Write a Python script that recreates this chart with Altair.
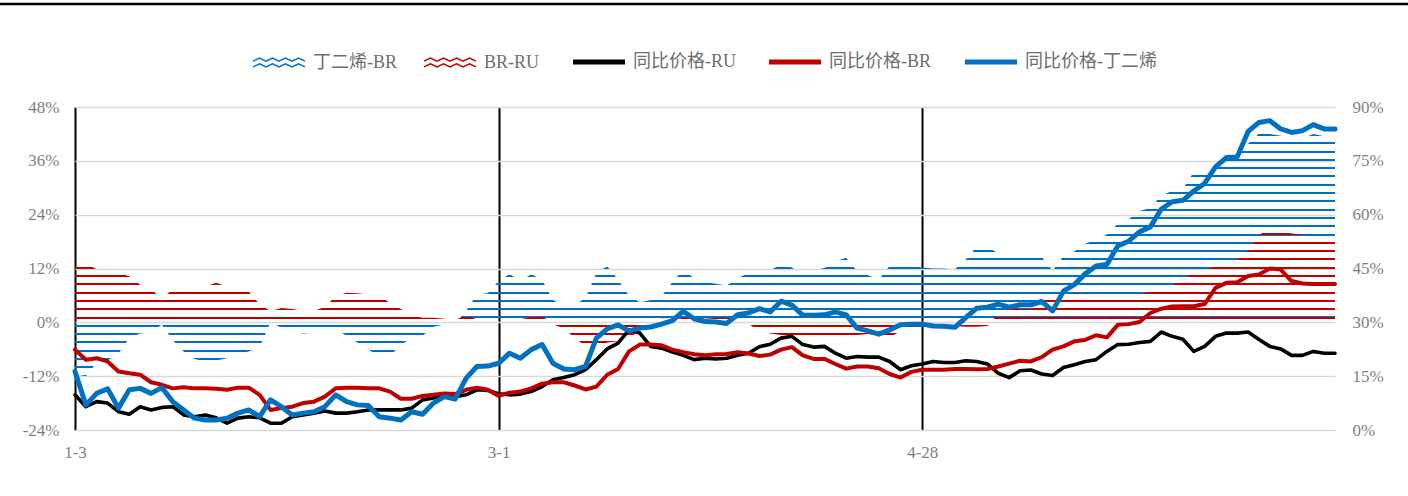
import math
import altair as alt
import pandas as pd

# ---------------- data ----------------
tick_pos = [0, 39, 78]
tick_labels = ["1-3", "3-1", "4-28"]

# 同比价格-RU (right axis, %)
ru = [9.8, 6.5, 7.9, 7.5, 5.1, 4.4, 6.5, 5.6, 6.3, 6.5,
      4.2, 3.7, 4.2, 3.4, 1.9, 3.3, 3.7, 3.4, 1.9, 1.9,
      3.7, 4.2, 4.7, 5.3, 4.7, 4.7, 5.1, 5.6, 5.6, 5.6,
      5.6, 6.1, 8.4, 8.9, 9.3, 9.3, 9.8, 11.2, 11.0, 10.1,
      9.8, 10.0, 10.7, 12.1, 14.0, 14.6, 15.4, 16.8, 19.6, 22.6,
      24.2, 27.9, 27.0, 23.3, 22.8, 21.7, 20.8, 19.6, 20.0, 19.8,
      20.0, 20.8, 21.4, 23.2, 23.9, 25.6, 26.1, 23.8, 23.1, 23.3,
      21.4, 20.0, 20.5, 20.3, 20.3, 19.1, 16.8, 17.9, 18.4, 19.1,
      18.8, 18.8, 19.3, 19.1, 18.4, 15.8, 14.6, 16.5, 16.7, 15.6,
      15.2, 17.4, 18.2, 19.1, 19.6, 21.9, 23.8, 23.9, 24.4, 24.7,
      27.3, 26.1, 25.3, 21.9, 23.3, 26.1, 27.0, 27.0, 27.3, 25.2,
      23.3, 22.6, 20.8, 20.8, 21.9, 21.4, 21.4]

# 同比价格-BR (right axis, %)
br = [22.4, 19.6, 20.0, 19.1, 16.3, 15.8, 15.4, 13.3, 12.6, 11.6,
      11.9, 11.6, 11.6, 11.5, 11.2, 11.8, 11.8, 9.8, 5.6, 6.1,
      6.5, 7.5, 7.9, 9.3, 11.6, 11.8, 11.8, 11.6, 11.6, 10.7,
      8.7, 8.7, 9.5, 9.8, 10.2, 10.0, 11.2, 11.8, 11.2, 9.5,
      10.4, 10.7, 11.6, 12.9, 13.3, 13.3, 12.4, 11.3, 12.1, 15.4,
      17.0, 21.9, 23.8, 23.8, 23.6, 22.4, 21.7, 21.1, 20.8, 21.1,
      21.2, 21.7, 21.3, 20.6, 21.0, 22.4, 23.1, 20.8, 19.8, 19.8,
      18.4, 17.1, 17.7, 17.7, 17.2, 15.6, 14.6, 16.2, 16.8, 16.8,
      16.8, 17.0, 17.0, 16.9, 17.0, 17.7, 18.5, 19.3, 19.1, 20.3,
      22.4, 23.3, 24.7, 25.1, 26.4, 25.8, 29.3, 29.5, 30.1, 32.6,
      33.8, 34.4, 34.5, 34.5, 35.1, 39.6, 41.0, 41.2, 42.9, 43.3,
      45.0, 44.7, 41.5, 40.8, 40.7, 40.7, 40.7]

# 同比价格-丁二烯 (right axis, %)
bd = [16.3, 7.0, 10.2, 11.5, 6.1, 11.2, 11.6, 10.2, 11.8, 7.9,
      5.6, 3.3, 2.8, 2.8, 3.3, 4.7, 5.6, 3.7, 8.4, 6.5,
      4.2, 4.7, 5.1, 6.5, 9.8, 7.9, 7.0, 6.8, 3.7, 3.3,
      2.8, 5.1, 4.4, 7.5, 9.3, 8.6, 14.4, 17.7, 17.8, 18.6,
      21.4, 20.0, 22.4, 23.8, 18.6, 17.0, 16.8, 17.7, 25.6, 28.2,
      29.3, 27.6, 28.4, 28.7, 29.5, 30.5, 33.1, 31.0, 30.2, 30.1,
      29.7, 32.1, 32.6, 33.8, 32.9, 35.9, 34.8, 32.0, 32.0, 32.1,
      32.9, 32.1, 28.4, 27.6, 26.7, 27.9, 29.3, 29.5, 29.5, 29.0,
      28.9, 28.6, 31.3, 33.9, 34.2, 35.1, 34.2, 34.9, 34.9, 35.8,
      33.2, 38.7, 40.5, 43.5, 45.7, 46.1, 51.3, 52.6, 55.2, 56.6,
      61.5, 63.6, 64.0, 66.6, 68.7, 73.3, 75.9, 76.1, 83.2, 85.7,
      86.2, 83.9, 82.9, 83.4, 85.1, 83.9, 83.9]

# 丁二烯-BR (left axis, %)
bd_br = [-11.5, -12.0, -9.0, -8.5, -7.0, -3.5, -2.5, -2.2, -0.5, -4.0,
         -6.5, -8.2, -8.7, -8.5, -8.0, -7.0, -6.5, -5.5,
         0.0, -1.2, -2.0, -2.5, -2.3, -2.0, -1.5, -3.0, -4.5, -6.0,
         -7.8, -7.5, -5.0, -3.5, -3.0, -1.0, -0.5, -0.3, 2.5, 6.2, 6.5,
         9.2, 10.8, 9.2, 10.7, 9.5, 5.0, 3.8, 3.8, 5.5, 11.0,
         12.5, 9.5, 6.0, 4.5, 5.0, 5.8, 9.0, 11.8,
         9.8, 9.0, 8.6, 8.2, 9.8, 11.0, 11.8, 11.6, 12.9, 12.2,
         10.5, 11.6, 12.1, 13.6, 14.4, 11.4, 10.5, 9.5, 12.6, 13.6,
         12.6, 12.2, 12.0, 12.0, 11.8, 14.0, 16.8, 16.8, 15.4, 15.0,
         15.2, 15.1, 14.6, 11.5, 14.8, 15.8, 17.5, 18.4, 19.6,
         22.0, 23.0, 24.8, 25.5, 28.3, 29.3, 29.8, 33.5, 33.8, 34.5,
         36.2, 36.8, 39.8, 42.1, 42.0, 41.6, 41.2, 41.0, 42.0, 41.5, 41.5]

# BR-RU (left axis, %)
br_ru = [12.5, 13.3, 11.8, 11.4, 11.0, 10.3, 8.4, 7.3, 5.4, 7.3,
         7.3, 6.9, 8.0, 8.8, 8.0, 7.7, 6.9, 4.0,
         2.5, 3.2, 3.0, 2.6, 2.5, 3.5, 5.8, 6.6, 6.5, 6.2,
         6.0, 4.3, 3.0, 1.5, 1.0, 1.0, 0.8, 0.6, 1.5, 0.7, 0.2,
         -0.3, 0.6, 0.7, 1.2, 1.5, -0.5, -1.3, -3.5, -5.3, -5.5,
         -4.5, -4.2, -3.5, -1.8, 0.3, 0.8, 0.7, 1.0,
         1.2, 0.8, 1.0, 1.0, 0.8, -0.3, -2.0, -2.5, -2.8, -3.0,
         -3.0, -3.2, -3.4, -3.0, -2.9, -2.8, -2.6, -3.0, -3.3, -2.0, -1.2,
         -1.0, -1.2, -1.0, -0.8, -1.0, -1.0, -0.8, 2.0, 3.2, 3.0,
         3.0, 4.5, 6.2, 6.0, 6.5, 6.3, 5.8, 5.0,
         5.6, 6.0, 6.2, 6.8, 7.2, 8.3, 9.5, 11.4, 11.8, 12.5,
         13.6, 14.0, 16.0, 19.4, 21.1, 20.7, 19.8, 19.6, 19.2, 19.2, 19.2]

AREA_NAMES = ["丁二烯-BR", "BR-RU"]
LINE_NAMES = ["同比价格-RU", "同比价格-BR", "同比价格-丁二烯"]
ALL_NAMES = AREA_NAMES + LINE_NAMES

left_ticks = [-24, -12, 0, 12, 24, 36, 48]
right_ticks = [0, 15, 30, 45, 60, 75, 90]

# ---------------- styles ----------------
BLUE = "#0070C0"
RED = "#C00000"
BLACK = "#000000"
COLORS = [BLUE, RED, BLACK, RED, BLUE]
LINE_WIDTHS = {LINE_NAMES[0]: 3.6, LINE_NAMES[1]: 4.0, LINE_NAMES[2]: 5.0}
FONT = "Liberation Serif, Noto Sans CJK SC"
GRAY = "#7F7F7F"

W, H = 1260, 323
LDOM = [left_ticks[0], left_ticks[-1]]
RDOM = [right_ticks[0], right_ticks[-1]]

N = len(ru)
idx = list(range(N))

area_df = pd.DataFrame({"i": idx, "bd_br": bd_br, "br_ru": br_ru})
line_df = pd.DataFrame({"i": idx, LINE_NAMES[0]: ru, LINE_NAMES[1]: br,
                        LINE_NAMES[2]: bd}).melt(id_vars="i", var_name="series",
                                                  value_name="v")


def stripe_fill(vals, color, period=8.3, width=2.0, phase=2.0):
    """Horizontal hatch (aligned to a common pixel grid) as a linear gradient."""
    def ypx(v):
        return (LDOM[1] - v) / (LDOM[1] - LDOM[0]) * H
    top = ypx(max(max(vals), 0))
    bot = ypx(min(min(vals), 0))
    h = bot - top
    clear = "rgba(255,255,255,0)"
    stops = [alt.GradientStop(offset=0, color=clear)]
    k = math.floor((top - phase) / period) - 1
    while True:
        y0 = phase + k * period
        if y0 > bot:
            break
        y1 = y0 + width
        t0 = round(min(max((y0 - top) / h, 0), 1), 5)
        t1 = round(min(max((y1 - top) / h, 0), 1), 5)
        if t1 > t0:
            stops += [alt.GradientStop(offset=t0, color=clear),
                      alt.GradientStop(offset=t0, color=color),
                      alt.GradientStop(offset=t1, color=color),
                      alt.GradientStop(offset=t1, color=clear)]
        k += 1
    stops.append(alt.GradientStop(offset=1, color=clear))
    return alt.Gradient(gradient="linear", stops=stops, x1=0, x2=0, y1=0, y2=1)


def wave_path():
    parts = []
    for lo, hi in [(-0.17, -0.05), (0.05, 0.17)]:
        pts = []
        for j in range(9):
            x = -1 + j * 0.25
            y = hi if j % 2 == 0 else lo
            pts.append(f"{x:.3f},{y:.3f}")
        parts.append("M" + " L".join(pts))
    return " ".join(parts)


x_label_expr = "".join(
    f"datum.value == {p} ? '{t}' : " for p, t in zip(tick_pos, tick_labels)) + "''"

x_enc = alt.X("i:Q",
              scale=alt.Scale(domain=[0, N - 1], nice=False, zero=False),
              axis=alt.Axis(values=tick_pos, labelExpr=x_label_expr, grid=True,
                            gridColor=BLACK, gridWidth=2, ticks=False, domain=False,
                            labelFont=FONT, labelFontSize=17, labelColor=GRAY,
                            labelPadding=14, labelFlush=False, title=None))

left_axis = alt.Axis(orient="left", values=left_ticks, labelExpr="datum.value + '%'",
                     grid=True, gridColor="#D9D9D9", gridWidth=1.6, ticks=False,
                     domain=False, labelFont=FONT, labelFontSize=17, labelColor=GRAY,
                     labelPadding=16, title=None)
left_scale = alt.Scale(domain=LDOM, nice=False, zero=False)

right_axis = alt.Axis(orient="right", values=right_ticks, labelExpr="datum.value + '%'",
                      grid=False, ticks=False, domain=False, labelFont=FONT,
                      labelFontSize=17, labelColor=GRAY, labelPadding=17, title=None)
right_scale = alt.Scale(domain=RDOM, nice=False, zero=False)

area_test = "(datum.value === '丁二烯-BR' || datum.value === 'BR-RU')"
legend = alt.Legend(
    orient="none", legendX=195, legendY=-54, direction="horizontal", title=None,
    symbolType=alt.ExprRef(f"{area_test} ? '{wave_path()}' : 'stroke'"),
    symbolStrokeWidth=alt.ExprRef(f"{area_test} ? 1.4 : 5"),
    symbolSize=2704,
    labelFont=FONT, labelFontSize=18, labelColor="#6E6E6E", labelOffset=25,
    columnPadding=23)
color_scale = alt.Scale(domain=ALL_NAMES, range=COLORS)

base_area = alt.Chart(area_df)
area_blue = base_area.mark_area(fill=stripe_fill(bd_br, BLUE), interpolate="linear").encode(
    x=x_enc, y=alt.Y("bd_br:Q", scale=left_scale, axis=left_axis), y2=alt.datum(0))
area_red = base_area.mark_area(fill=stripe_fill(br_ru, RED), interpolate="linear").encode(
    x=x_enc, y=alt.Y("br_ru:Q", scale=left_scale, axis=left_axis), y2=alt.datum(0))

top_rule = alt.Chart(pd.DataFrame({"a": [0]})).mark_rule(
    color=BLACK, strokeWidth=2.5).encode(
    x=alt.value(-75), x2=alt.value(W + 73), y=alt.value(-103))

left = alt.layer(area_blue, area_red, top_rule)


def line_layer(name):
    return alt.Chart(line_df).transform_filter(alt.datum.series == name).mark_line(
        strokeWidth=LINE_WIDTHS[name], strokeJoin="round", strokeCap="round",
        interpolate="linear").encode(
        x=x_enc,
        y=alt.Y("v:Q", scale=right_scale, axis=right_axis),
        color=alt.Color("series:N", scale=color_scale, legend=legend))


right = alt.layer(*[line_layer(n) for n in LINE_NAMES])

chart = alt.layer(left, right).resolve_scale(y="independent").properties(
    width=W, height=H,
    autosize=alt.AutoSizeParams(type="none"),
    padding={"left": 75, "top": 107, "right": 73, "bottom": 66},
    background="white",
).configure_view(stroke=None)

chart.save("out.html", embed_options={"renderer": "svg", "actions": False})
